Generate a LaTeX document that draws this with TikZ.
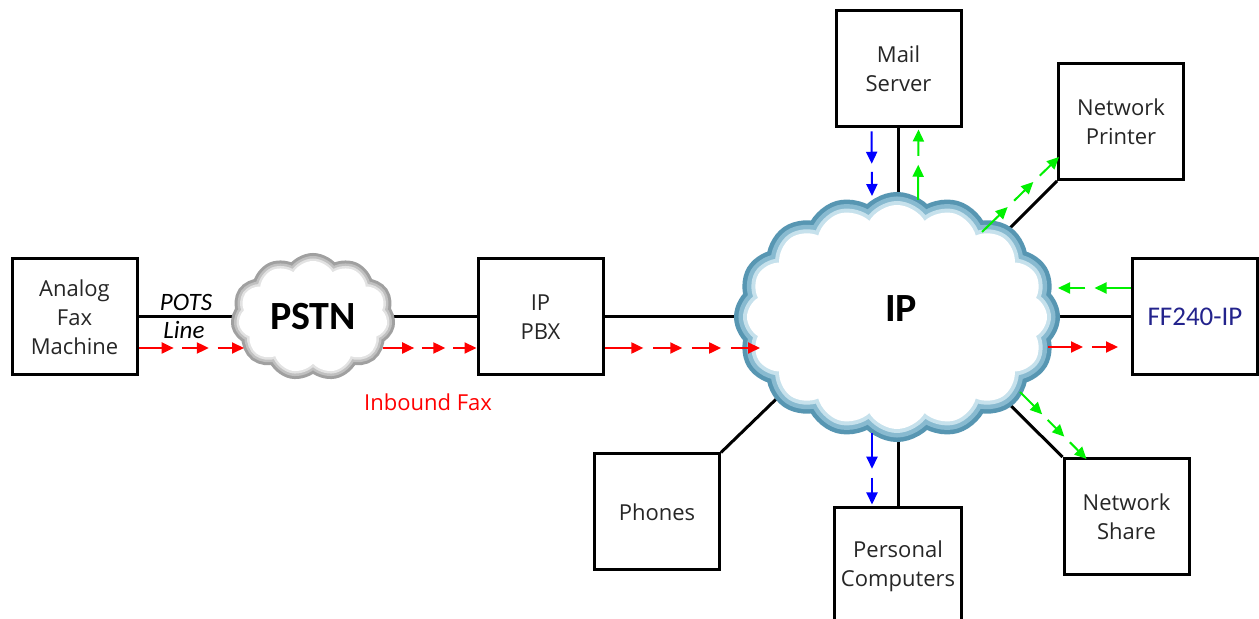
\documentclass[tikz,border=0pt]{standalone}
\usepackage{fontspec}
\setmainfont{Open Sans}
\newfontfamily\calib{Carlito}
\usepackage{tikz}
\usetikzlibrary{calc,arrows.meta,shapes.symbols,backgrounds}
\definecolor{inred}{HTML}{FF0000}
\definecolor{mailblue}{HTML}{0000FF}
\definecolor{outgreen}{HTML}{00F000}
\definecolor{ffnavy}{HTML}{23238C}
\definecolor{ipdark}{HTML}{5796B2}
\definecolor{ipmid}{HTML}{88BAD0}
\definecolor{iplight}{HTML}{C6E1EC}
\definecolor{grdark}{HTML}{A0A0A0}
\definecolor{grmid}{HTML}{C0C0C0}
\definecolor{grlight}{HTML}{E2E2E2}
\tikzset{
  box/.style={draw=black, line width=1.5pt, minimum width=62.5pt, minimum height=58pt,
    align=center, text=black!85, font=\fontsize{11}{14.5}\selectfont},
  wire/.style={draw=black, line width=1.5pt},
  flow/.style={line width=1pt, -{Triangle[length=6pt,width=5.5pt]}},
  inflow/.style={flow, draw=inred},
  mailflow/.style={flow, draw=mailblue},
  outflow/.style={flow, draw=outgreen},
  pstncloud/.style={cloud, cloud puffs=11, cloud puff arc=120, cloud ignores aspect,
    inner sep=0pt, minimum width=74.5pt, minimum height=56pt},
  ipcloud/.style={cloud, cloud puffs=16, cloud puff arc=120, cloud ignores aspect,
    inner sep=0pt, minimum width=150pt, minimum height=112pt},
  cloudlab/.style={font=\calib\bfseries\fontsize{20}{24}\selectfont},
  lab/.style={font=\fontsize{11}{14}\selectfont},
}
% dashed run of small arrows: style, from, to, count
\newcommand{\flowrun}[4]{%
  \foreach \k in {1,...,#4}{
    \pgfmathsetmacro{\fs}{ifthenelse(\k==1,0,(\k-0.75)/#4)}
    \pgfmathsetmacro{\fe}{\k/#4}
    \draw[#1] ($(#2)!\fs!(#3)$) -- ($(#2)!\fe!(#3)$);
  }}

\begin{document}
\begin{tikzpicture}[x=0.5pt,y=-0.5pt]
  \useasboundingbox (0,0) rectangle (1259,619);
  % devices
  \node[box] (fax) at (74.5,317) {Analog\\Fax\\Machine};
  \node[box] (pbx) at (540.5,317) {IP\\PBX};
  \node[box] (mail) at (898.5,69) {Mail\\Server};
  \node[box] (printer) at (1121,121.5) {Network\\Printer};
  \node[box, text=ffnavy, font=\calib\fontsize{13.5}{16}\selectfont] (ff) at (1195,317) {FF240-IP};
  \node[box] (phones) at (657,512) {Phones};
  \node[box] (pc) at (898,566) {Personal\\Computers};
  \node[box] (share) at (1126.5,516.5) {Network\\Share};
  % clouds, layered rims
  \node[pstncloud, draw=grdark, line width=8pt] (pstn) at (313,317) {};
  \node[pstncloud, draw=grmid, line width=5pt] at (pstn) {};
  \node[pstncloud, draw=grlight, line width=2.5pt] at (pstn) {};
  \node[pstncloud, fill=white] at (pstn) {};
  \node[cloudlab] (pstntext) at (pstn) {PSTN};
  \node[ipcloud, draw=ipdark, line width=13pt] (ip) at (897,317) {};
  \node[ipcloud, draw=ipmid, line width=8.5pt] at (ip) {};
  \node[ipcloud, draw=iplight, line width=4pt] at (ip) {};
  \node[ipcloud, fill=white] at (ip) {};
  \node[cloudlab] (iptext) at (901,309) {IP};
  % points on the clouds
  \coordinate (ip-sw) at (800,376);
  \coordinate (ip-ne) at (990,248);
  \coordinate (ip-se) at (985,380);
  \coordinate (pstn-w) at (244,348);
  \coordinate (pstn-e) at (383,348);
  \coordinate (ip-w) at (760,348);
  \coordinate (ip-e) at (1048,347);
  \coordinate (ip-n1) at (872,196);
  \coordinate (ip-n2) at (918,200);
  \coordinate (ip-s1) at (872,433);
  \coordinate (ip-ne2) at (982,232);
  \coordinate (ip-e2) at (1058,288);
  \coordinate (ip-se2) at (1020,392);
  % links
  \begin{scope}[on background layer]
    \draw[wire] (fax.east) -- (pstn.center);
    \draw[wire] (pstn.center) -- (pbx.west);
    \draw[wire] (pbx.east) -- (ip.center);
    \draw[wire] (ff.west) -- (ip.center);
    \draw[wire] (mail.south) -- (mail.south |- ip.center);
    \draw[wire] (pc.north) -- (pc.north |- ip.center);
    \draw[wire] (phones.north east) -- (ip-sw);
    \draw[wire] (printer.south west) -- (ip-ne);
    \draw[wire] (share.north west) -- (ip-se);
  \end{scope}
  \node[lab, font=\calib\itshape\fontsize{12.5}{15}\selectfont] (pots) at (186,302) {POTS};
  \node[lab, font=\calib\itshape\fontsize{12.5}{15}\selectfont] (line) at (184,330) {Line};
  \node[lab, text=inred] (inbound) at (428,402) {Inbound Fax};
  % traffic
  \flowrun{inflow}{$(fax.east)+(0,31)$}{pstn-w}{3}
  \flowrun{inflow}{pstn-e}{$(pbx.west)+(0,31)$}{3}
  \flowrun{inflow}{$(pbx.east)+(0,31)$}{ip-w}{4}
  \flowrun{inflow}{ip-e}{$(ff.west)+(-13,30)$}{2}
  \flowrun{mailflow}{$(mail.south)+(-27,3)$}{ip-n1}{2}
  \flowrun{mailflow}{ip-s1}{$(pc.north)+(-26,-2)$}{2}
  \flowrun{outflow}{ip-n2}{$(mail.south)+(20,1)$}{2}
  \flowrun{outflow}{ip-ne2}{$(printer.south west)+(2,-24)$}{3}
  \flowrun{outflow}{$(ff.west)+(0,-29)$}{ip-e2}{2}
  \flowrun{outflow}{ip-se2}{$(share.north west)+(24,2)$}{3}
\end{tikzpicture}
\end{document}
